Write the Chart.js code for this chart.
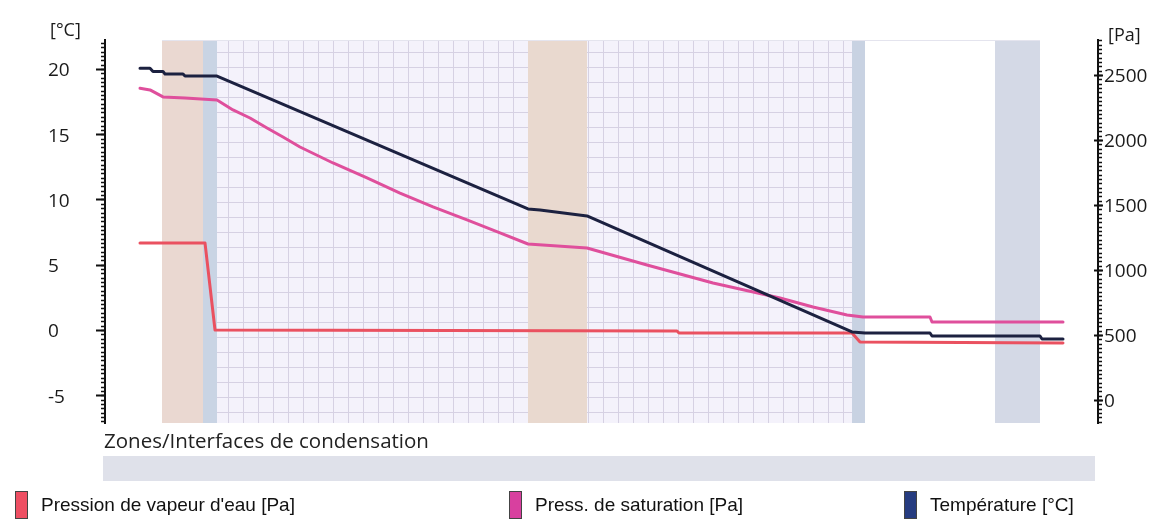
<!DOCTYPE html>
<html>
<head>
<meta charset="utf-8">
<script src="https://cdn.jsdelivr.net/npm/chart.js@4"></script>
<style>
  html, body { margin: 0; padding: 0; background: #fff; }
  #wrap { position: relative; width: 1154px; height: 519px; overflow: hidden; }
  canvas { position: absolute; left: 0; top: 0; }
  .unit { position: absolute; font-family: "Open Sans", sans-serif; font-size: 18px; color: #1a1a1a; line-height: 1; }
  #zoneLabel { position: absolute; left: 104px; top: 428px; font-family: "Open Sans", sans-serif; font-size: 20.5px; color: #222; line-height: 1.2; }
  #zoneBar { position: absolute; left: 103px; top: 456px; width: 992px; height: 25px; background: #dfe1ea; }
  .leg { position: absolute; top: 491px; height: 27px; display: flex; align-items: center; font-family: "Liberation Sans", Arial, sans-serif; font-size: 19px; color: #111; }
  .leg i { display: inline-block; width: 11px; height: 26px; border: 1px solid #444; margin-right: 13px; }
</style>
</head>
<body>
<div id="wrap">
  <canvas id="chart" width="1154" height="519"></canvas>
  <div class="unit" style="left:50px; top:20px;">[°C]</div>
  <div class="unit" style="left:1108px; top:25px;">[Pa]</div>
  <div id="zoneLabel">Zones/Interfaces de condensation</div>
  <div id="zoneBar"></div>
  <div class="leg" style="left:15px;"><i style="background:#ee4f63"></i>Pression de vapeur d'eau [Pa]</div>
  <div class="leg" style="left:509px;"><i style="background:#d8409f"></i>Press. de saturation [Pa]</div>
  <div class="leg" style="left:904px;"><i style="background:#263c80"></i>Température [°C]</div>
</div>
<script>
// Wall cross-section: layer boundaries along the position axis
const layerStart = [57, 98, 112, 423, 482, 747, 760, 890];
const layerEnd   = [98, 112, 423, 482, 747, 760, 890, 935];
const layerFill  = ['#ead8d1', '#c9d4e4', 'grid', '#e9d9cf', 'grid', '#c8d2e2', '#ffffff', '#d4d9e6'];

// Temperature profile [°C]
const tempPos = [35, 45, 48, 58, 60, 78, 80, 112, 423, 435, 482, 747, 760, 825, 827, 935, 937, 958];
const tempC   = [20.05, 20.05, 19.8, 19.8, 19.62, 19.62, 19.46, 19.46, 9.27, 9.2, 8.74, -0.15, -0.23, -0.23, -0.46, -0.46, -0.69, -0.69];

// Saturation vapour pressure [Pa]
const satPos = [35, 45, 58, 80, 112, 128, 145, 162, 178, 195, 228, 262, 295, 328, 362, 395, 423, 482, 542, 608, 675, 708, 742, 758, 825, 827, 958];
const satPa  = [2398, 2385, 2331, 2323, 2308, 2231, 2169, 2092, 2023, 1946, 1823, 1708, 1592, 1485, 1385, 1285, 1200, 1169, 1038, 900, 785, 715, 654, 638, 638, 600, 600];

// Water vapour partial pressure [Pa]
const vapPos = [35, 100, 110, 572, 574, 747, 755, 958];
const vapPa  = [1208, 1208, 538, 531, 515, 515, 446, 438];

// Axis tick labels
const tempTicks = [-5, 0, 5, 10, 15, 20];
const paTicks   = [0, 500, 1000, 1500, 2000, 2500];

const pts = (xs, ys) => xs.map((x, i) => ({ x: x, y: ys[i] }));

// Layer bands behind the curves; gridded texture for masonry layers
const layersPlugin = {
  id: 'layers',
  beforeDatasetsDraw(chart) {
    const { ctx, chartArea: a, scales: { x } } = chart;
    ctx.save();
    layerStart.forEach((s, i) => {
      const x0 = Math.round(x.getPixelForValue(s));
      const x1 = Math.round(x.getPixelForValue(layerEnd[i]));
      if (layerFill[i] === 'grid') {
        ctx.fillStyle = '#f4f2fb';
        ctx.fillRect(x0, a.top, x1 - x0, a.bottom - a.top);
        ctx.strokeStyle = '#d6d1e3';
        ctx.lineWidth = 1;
        ctx.beginPath();
        for (let gx = a.left + 3; gx < x1; gx += 15) {
          if (gx <= x0) continue;
          ctx.moveTo(gx + 0.5, a.top); ctx.lineTo(gx + 0.5, a.bottom);
        }
        for (let gy = a.top + 12; gy < a.bottom; gy += 15) {
          ctx.moveTo(x0, gy + 0.5); ctx.lineTo(x1, gy + 0.5);
        }
        ctx.stroke();
      } else {
        ctx.fillStyle = layerFill[i];
        ctx.fillRect(x0, a.top, x1 - x0, a.bottom - a.top);
      }
    });
    // faint top edge of the section
    ctx.strokeStyle = '#e4e4ee';
    ctx.beginPath();
    ctx.moveTo(x.getPixelForValue(layerStart[0]), a.top + 0.5);
    ctx.lineTo(x.getPixelForValue(layerEnd[layerEnd.length - 1]), a.top + 0.5);
    ctx.stroke();
    ctx.restore();
  }
};

// Major and minor tick marks on both value axes
const ticksPlugin = {
  id: 'tickMarks',
  afterDraw(chart) {
    const { ctx, chartArea: a, scales: { yT, yPa } } = chart;
    ctx.save();
    ctx.strokeStyle = '#111';
    ctx.lineWidth = 1.5;
    ctx.beginPath();
    for (let k = -21; k <= 66; k++) {
      const v = k / 3;
      if (v < yT.min || v > yT.max) continue;
      const py = Math.round(yT.getPixelForValue(v)) + 0.5;
      ctx.moveTo(a.left - 4, py); ctx.lineTo(a.left, py);
    }
    for (let k = -5; k <= 83; k++) {
      const v = k * 100 / 3;
      if (v < yPa.min || v > yPa.max) continue;
      const py = Math.round(yPa.getPixelForValue(v)) + 0.5;
      ctx.moveTo(a.right, py); ctx.lineTo(a.right + 4, py);
    }
    ctx.stroke();
    ctx.lineWidth = 2;
    ctx.beginPath();
    tempTicks.forEach(v => {
      const py = Math.round(yT.getPixelForValue(v)) + 0.5;
      ctx.moveTo(a.left - 9, py); ctx.lineTo(a.left + 1, py);
    });
    paTicks.forEach(v => {
      const py = Math.round(yPa.getPixelForValue(v)) + 0.5;
      ctx.moveTo(a.right - 4, py); ctx.lineTo(a.right + 5, py);
    });
    ctx.stroke();
    ctx.restore();
  }
};

const tickFont = { family: '"Open Sans", sans-serif', size: 19 };

new Chart(document.getElementById('chart'), {
  type: 'line',
  data: {
    datasets: [
      { label: "Pression de vapeur d'eau [Pa]", data: pts(vapPos, vapPa), yAxisID: 'yPa',
        borderColor: '#ea5160', borderWidth: 3, order: 3 },
      { label: 'Press. de saturation [Pa]', data: pts(satPos, satPa), yAxisID: 'yPa',
        borderColor: '#df4f9c', borderWidth: 3, order: 2 },
      { label: 'Température [°C]', data: pts(tempPos, tempC), yAxisID: 'yT',
        borderColor: '#1c2140', borderWidth: 3, order: 1 }
    ]
  },
  options: {
    responsive: false,
    animation: false,
    events: [],
    elements: { point: { radius: 0 }, line: { tension: 0, borderJoinStyle: 'round', borderCapStyle: 'round' } },
    layout: { padding: { top: 40, bottom: 96, left: 48, right: 0 } },
    plugins: { legend: { display: false }, tooltip: { enabled: false } },
    scales: {
      x: { type: 'linear', min: 0, max: 993, display: false },
      yT: {
        position: 'left', min: -7.13, max: 22.22,
        afterFit(s) { s.width = 57; },
        afterBuildTicks(s) { s.ticks = tempTicks.map(v => ({ value: v })); },
        grid: { display: false, drawTicks: false },
        border: { display: true, color: '#111', width: 2 },
        ticks: { crossAlign: 'far', padding: 0, labelOffset: 2, font: tickFont, color: '#1a1a1a',
                 callback: v => String(v) }
      },
      yPa: {
        position: 'right', min: -177, max: 2769,
        afterFit(s) { s.width = 56; },
        afterBuildTicks(s) { s.ticks = paTicks.map(v => ({ value: v })); },
        grid: { display: false, drawTicks: false },
        border: { display: true, color: '#111', width: 2 },
        ticks: { padding: 6, labelOffset: 2, font: tickFont, color: '#1a1a1a',
                 callback: v => String(v) }
      }
    }
  },
  plugins: [layersPlugin, ticksPlugin]
});
</script>
</body>
</html>
